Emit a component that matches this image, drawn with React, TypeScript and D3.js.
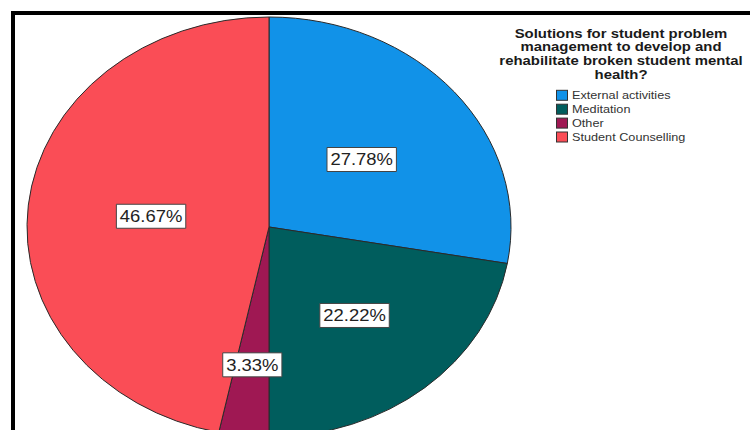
import React, { useEffect, useRef } from "react";
import * as d3 from "d3";

const categories = ["External activities", "Meditation", "Other", "Student Counselling"];
const percentages = [27.78, 22.22, 3.33, 46.67];
const sliceColors = ["#1192e8", "#005d5d", "#9f1853", "#fa4d56"];
const labelRadiusFactor = [0.5, 0.55, 0.66, 0.49];
const titleLines = [
  "Solutions for student problem",
  "management to develop and",
  "rehabilitate broken student mental",
  "health?",
];

const W = 750;
const H = 430;
const CX = 269;
const CY = 227;
const R = 210;
const SX = 242 / 210;
const FONT = "'Liberation Sans', Arial, Helvetica, sans-serif";

export default function App() {
  const ref = useRef<SVGSVGElement | null>(null);

  useEffect(() => {
    const svg = d3.select(ref.current);
    svg.selectAll("*").remove();

    svg.append("rect").attr("x", 0).attr("y", 0).attr("width", W).attr("height", H).attr("fill", "#fff");

    // outer frame
    svg
      .append("rect")
      .attr("x", 13)
      .attr("y", 13)
      .attr("width", 900)
      .attr("height", 600)
      .attr("fill", "none")
      .attr("stroke", "#000")
      .attr("stroke-width", 4);

    const pie = d3
      .pie<number>()
      .sort(null)
      .value((d) => d);
    const arcs = pie(percentages);
    const arc = d3.arc<d3.PieArcDatum<number>>().innerRadius(0).outerRadius(R);

    const g = svg.append("g").attr("transform", `translate(${CX},${CY}) scale(${SX},1)`);
    g.selectAll("path")
      .data(arcs)
      .enter()
      .append("path")
      .attr("d", (d) => arc(d) as string)
      .attr("fill", (_, i) => sliceColors[i])
      .attr("stroke", "#2a2a2a")
      .attr("stroke-width", 1)
      .attr("vector-effect", "non-scaling-stroke");

    // labels
    const lg = svg.append("g").attr("transform", `translate(${CX},${CY})`);
    arcs.forEach((a, i) => {
      const mid = (a.startAngle + a.endAngle) / 2;
      const rr = R * labelRadiusFactor[i];
      const x = Math.sin(mid) * rr * SX;
      const y = -Math.cos(mid) * rr;
      const lab = lg.append("g").attr("transform", `translate(${x},${y}) scale(${SX},1)`);
      const rect = lab.append("rect");
      const t = lab
        .append("text")
        .attr("x", 0)
        .attr("y", 0)
        .attr("dy", "0.36em")
        .attr("text-anchor", "middle")
        .attr("font-family", FONT)
        .attr("font-size", 16)
        .attr("fill", "#222")
        .text(`${percentages[i].toFixed(2)}%`);
      const tw = (t.node() as SVGTextElement).getComputedTextLength();
      const bw = tw + 6;
      const bh = 24;
      rect
        .attr("x", -bw / 2)
        .attr("y", -bh / 2)
        .attr("width", bw)
        .attr("height", bh)
        .attr("fill", "#fff")
        .attr("stroke", "#444")
        .attr("stroke-width", 1)
        .attr("vector-effect", "non-scaling-stroke");
    });

    // legend title
    titleLines.forEach((line, i) => {
      svg
        .append("text")
        .attr("transform", `translate(621,${37.5 + i * 13.9}) scale(${SX * 1.06},1)`)
        .attr("text-anchor", "middle")
        .attr("font-family", FONT)
        .attr("font-weight", "bold")
        .attr("font-size", 12.2)
        .attr("fill", "#1a1a1a")
        .text(line);
    });

    // legend items
    categories.forEach((c, i) => {
      const yc = 95.3 + i * 13.9;
      svg
        .append("rect")
        .attr("x", 556.5)
        .attr("y", yc - 5)
        .attr("width", 11)
        .attr("height", 10)
        .attr("fill", sliceColors[i])
        .attr("stroke", "#333")
        .attr("stroke-width", 1);
      svg
        .append("text")
        .attr("transform", `translate(572,${yc + 4}) scale(${SX},1)`)
        .attr("font-family", FONT)
        .attr("font-size", 11)
        .attr("fill", "#333")
        .text(c);
    });
  }, []);

  return (
    <svg
      ref={ref}
      width={W}
      height={H}
      style={{ position: "absolute", left: 0, top: 0, display: "block" }}
    />
  );
}
